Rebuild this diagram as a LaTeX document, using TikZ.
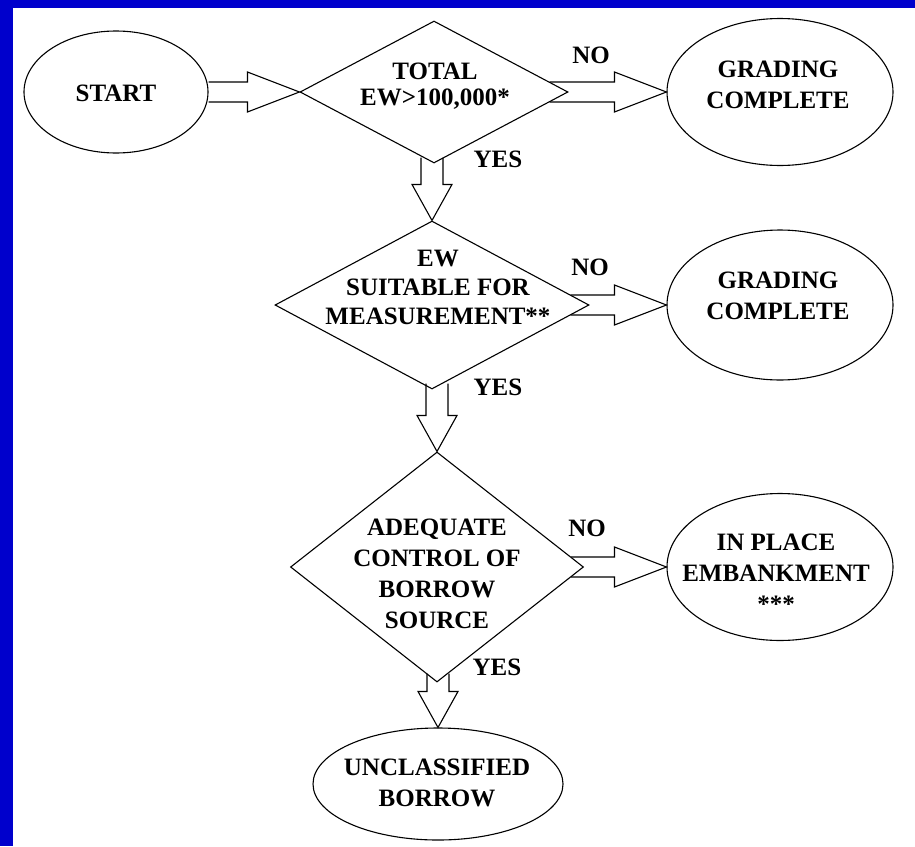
\documentclass[tikz,border=0pt]{standalone}
\usepackage{fontspec}
\setmainfont{Liberation Serif}
\usetikzlibrary{shapes.geometric,calc}
\definecolor{frameblue}{RGB}{0,0,204}
\tikzset{
  every node/.style={font=\bfseries\fontsize{25}{31}\selectfont, inner sep=0pt},
  ovalbox/.style={ellipse, draw, line width=1.1pt},
  decbox/.style={diamond, draw, line width=1.1pt},
  lbl/.style={align=center},
  blockarrow/.style={draw, line width=1.1pt, line join=miter},
}
% horizontal hollow block arrow: #1 start, #2 tip, #3 x-offset of the shaft start
\newcommand{\hblockarrow}[3]{%
  \draw[blockarrow] ($(#1)+(#3,-10)$) -- ($(#2)+(-52,-10)$) -- ($(#2)+(-52,-20)$) -- (#2)
    -- ($(#2)+(-52,20)$) -- ($(#2)+(-52,10)$) -- ($(#1)+(#3,10)$);}
% vertical hollow block arrow: #1 start, #2 tip, #3 y-offset of the shaft start
\newcommand{\vblockarrow}[3]{%
  \draw[blockarrow] ($(#2|-#1)+(-11,#3)$) -- ($(#2)+(-11,-36)$) -- ($(#2)+(-20,-36)$) -- (#2)
    -- ($(#2)+(20,-36)$) -- ($(#2)+(11,-36)$) -- ($(#2|-#1)+(11,#3)$);}
\begin{document}
\begin{tikzpicture}[x=1pt,y=-1pt]
\useasboundingbox (0,0) rectangle (915,846);
\fill[white] (0,0) rectangle (915,846);
\fill[frameblue] (0,0) rectangle (13,846);
\fill[frameblue] (0,0) rectangle (915,8);

% row 1
\node[ovalbox, minimum width=184pt, minimum height=122pt] (start) at (116,92) {};
\node[lbl] (startt) at (116,93) {START};
\node[decbox, minimum width=268pt, minimum height=142pt] (d1) at (434,92) {};
\node[lbl] (d1t) at (435,86) {TOTAL\\[-5pt]EW>100,000*};
\node[ovalbox, minimum width=226pt, minimum height=147pt] (e1) at (780,92) {};
\node[lbl] (e1t) at (778,85) {GRADING\\COMPLETE};

% row 2
\node[decbox, minimum width=314pt, minimum height=168pt] (d2) at (432,305) {};
\node[lbl] (d2t) at (438,287) {EW\\[-2pt]SUITABLE FOR\\[-2pt]MEASUREMENT**};
\node[ovalbox, minimum width=226pt, minimum height=150pt] (e2) at (780,305) {};
\node[lbl] (e2t) at (778,296) {GRADING\\COMPLETE};

% row 3
\node[decbox, minimum width=293pt, minimum height=230pt] (d3) at (437,567) {};
\node[lbl] (d3t) at (437,574) {ADEQUATE\\CONTROL OF\\BORROW\\SOURCE};
\node[ovalbox, minimum width=226pt, minimum height=147pt] (e3) at (780,567) {};
\node[lbl] (e3t) at (776,573) {IN PLACE\\EMBANKMENT\\***};

% row 4
\node[ovalbox, minimum width=250pt, minimum height=112pt] (e4) at (438,784) {};
\node[lbl] (e4t) at (437,783) {UNCLASSIFIED\\BORROW};

% labels
\node (no1) at (591,55) {NO};
\node (no2) at (590,267) {NO};
\node (no3) at (587,528) {NO};
\node (yes1) at (498,159) {YES};
\node (yes2) at (498,387) {YES};
\node (yes3) at (497,667) {YES};

% connectors
\hblockarrow{start.east}{d1.west}{0}
\hblockarrow{d1.east}{e1.west}{-19}
\hblockarrow{d2.east}{e2.west}{-19}
\hblockarrow{d3.east}{e3.west}{-13}
\vblockarrow{d1.south}{d2.north}{-6}
\vblockarrow{d2.south}{d3.north}{-6}
\vblockarrow{d3.south}{e4.north}{-9}
\end{tikzpicture}
\end{document}
